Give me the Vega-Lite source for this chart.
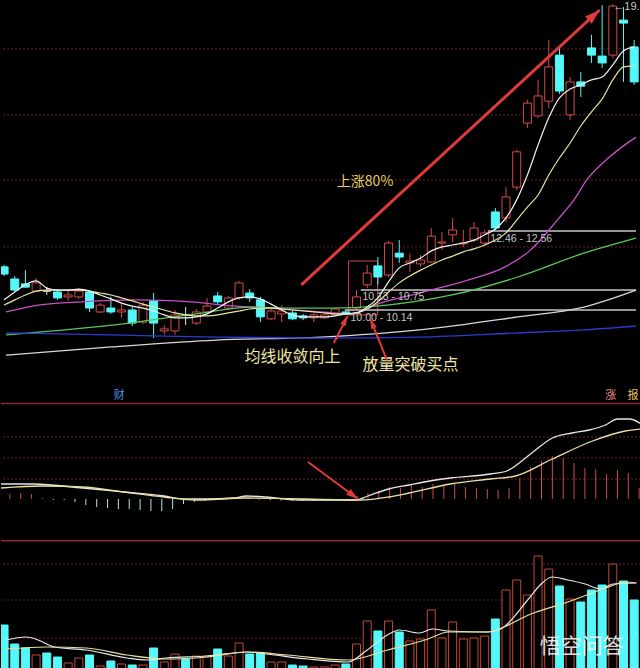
{
"$schema":"https://vega.github.io/schema/vega-lite/v6.json",
"background":"#000000",
"padding":0,
"spacing":0,
"config":{"view":{"stroke":null},"axis":{"disable":true}},
"resolve":{"scale":{"color":"independent","x":"independent","y":"independent"}},
"datasets":{
"candles":[
{"k":0,"o":11.46,"c":11.24,"h":11.52,"l":11.18,"ma5":10.45,"ma10":10.29,"vol":45000,"m":0.04},
{"k":1,"o":11.09,"c":10.75,"h":11.18,"l":10.69,"ma5":10.69,"ma10":10.45,"vol":26000,"m":0.05},
{"k":2,"o":10.94,"c":10.84,"h":11.36,"l":10.81,"ma5":10.91,"ma10":10.60,"vol":22000,"m":0.06},
{"k":3,"o":10.72,"c":10.97,"h":11.12,"l":10.69,"ma5":11.03,"ma10":10.72,"vol":15000,"m":0.05},
{"k":4,"o":10.72,"c":10.72,"h":10.84,"l":10.60,"ma5":10.81,"ma10":10.75,"vol":17000,"m":0.01},
{"k":5,"o":10.69,"c":10.51,"h":10.78,"l":10.45,"ma5":10.75,"ma10":10.75,"vol":13000,"m":-0.01},
{"k":6,"o":10.54,"c":10.60,"h":10.72,"l":10.42,"ma5":10.75,"ma10":10.75,"vol":7000,"m":-0.01},
{"k":7,"o":10.54,"c":10.72,"h":10.81,"l":10.48,"ma5":10.78,"ma10":10.75,"vol":12000,"m":-0.03},
{"k":8,"o":10.69,"c":10.20,"h":10.75,"l":10.08,"ma5":10.72,"ma10":10.72,"vol":15000,"m":-0.06},
{"k":9,"o":10.08,"c":10.29,"h":10.35,"l":10.05,"ma5":10.60,"ma10":10.66,"vol":4000,"m":-0.08},
{"k":10,"o":10.20,"c":10.08,"h":10.54,"l":10.02,"ma5":10.48,"ma10":10.60,"vol":9000,"m":-0.09},
{"k":11,"o":10.08,"c":10.14,"h":10.35,"l":9.90,"ma5":10.35,"ma10":10.51,"vol":6000,"m":-0.10},
{"k":12,"o":10.14,"c":9.74,"h":10.23,"l":9.65,"ma5":10.26,"ma10":10.42,"vol":5000,"m":-0.10},
{"k":13,"o":9.77,"c":10.29,"h":10.38,"l":9.71,"ma5":10.20,"ma10":10.32,"vol":5000,"m":-0.11},
{"k":14,"o":10.42,"c":9.74,"h":10.66,"l":9.28,"ma5":10.11,"ma10":10.23,"vol":22000,"m":-0.12},
{"k":15,"o":9.50,"c":9.56,"h":9.68,"l":9.38,"ma5":9.99,"ma10":10.14,"vol":8000,"m":-0.12},
{"k":16,"o":9.50,"c":9.99,"h":10.14,"l":9.38,"ma5":9.90,"ma10":10.05,"vol":16000,"m":-0.10},
{"k":17,"o":9.99,"c":9.99,"h":10.23,"l":9.68,"ma5":9.90,"ma10":9.99,"vol":11000,"m":-0.05},
{"k":18,"o":9.74,"c":10.08,"h":10.17,"l":9.68,"ma5":9.93,"ma10":9.96,"vol":14000,"m":-0.03},
{"k":19,"o":10.08,"c":10.26,"h":10.51,"l":10.05,"ma5":10.02,"ma10":9.96,"vol":14000,"m":-0.02},
{"k":20,"o":10.57,"c":10.39,"h":10.69,"l":10.29,"ma5":10.20,"ma10":9.99,"vol":21000,"m":-0.01},
{"k":21,"o":10.20,"c":10.51,"h":10.57,"l":10.14,"ma5":10.39,"ma10":10.05,"vol":14000,"m":-0.005},
{"k":22,"o":10.51,"c":10.97,"h":11.03,"l":10.45,"ma5":10.51,"ma10":10.11,"vol":27000,"m":0.01},
{"k":23,"o":10.66,"c":10.51,"h":10.78,"l":10.39,"ma5":10.54,"ma10":10.17,"vol":16000,"m":0.01},
{"k":24,"o":10.45,"c":9.93,"h":10.54,"l":9.77,"ma5":10.48,"ma10":10.20,"vol":17000,"m":-0.005},
{"k":25,"o":9.87,"c":10.11,"h":10.17,"l":9.83,"ma5":10.32,"ma10":10.20,"vol":8000,"m":-0.01},
{"k":26,"o":10.02,"c":10.11,"h":10.29,"l":9.77,"ma5":10.14,"ma10":10.17,"vol":8000,"m":-0.015},
{"k":27,"o":10.05,"c":9.87,"h":10.11,"l":9.83,"ma5":9.99,"ma10":10.14,"vol":5000,"m":-0.02},
{"k":28,"o":9.96,"c":9.90,"h":10.02,"l":9.83,"ma5":9.93,"ma10":10.11,"vol":4000,"m":-0.02},
{"k":29,"o":9.90,"c":9.99,"h":10.05,"l":9.77,"ma5":9.93,"ma10":10.08,"vol":3000,"m":-0.02},
{"k":30,"o":9.90,"c":9.99,"h":10.02,"l":9.87,"ma5":9.93,"ma10":10.05,"vol":3000,"m":-0.015},
{"k":31,"o":9.99,"c":10.17,"h":10.20,"l":9.96,"ma5":9.96,"ma10":10.02,"vol":5000,"m":-0.01},
{"k":32,"o":10.08,"c":10.02,"h":10.11,"l":9.99,"ma5":10.02,"ma10":10.02,"vol":6000,"m":-0.005},
{"k":33,"o":10.20,"c":10.54,"h":10.75,"l":10.14,"ma5":10.05,"ma10":10.05,"vol":26000,"m":0.03},
{"k":34,"o":10.91,"c":11.27,"h":11.52,"l":10.81,"ma5":10.23,"ma10":10.17,"vol":49000,"m":0.06},
{"k":35,"o":11.49,"c":11.15,"h":11.76,"l":10.91,"ma5":10.51,"ma10":10.39,"vol":39000,"m":0.08},
{"k":36,"o":11.21,"c":12.19,"h":12.25,"l":11.15,"ma5":11.00,"ma10":10.69,"vol":49000,"m":0.12},
{"k":37,"o":11.88,"c":11.76,"h":12.28,"l":11.58,"ma5":11.43,"ma10":10.97,"vol":38000,"m":0.11},
{"k":38,"o":11.58,"c":11.64,"h":11.88,"l":11.30,"ma5":11.58,"ma10":11.18,"vol":29000,"m":0.14},
{"k":39,"o":11.55,"c":11.67,"h":11.82,"l":11.46,"ma5":11.73,"ma10":11.36,"vol":31000,"m":0.12},
{"k":40,"o":11.61,"c":12.40,"h":12.65,"l":11.58,"ma5":11.95,"ma10":11.52,"vol":60000,"m":0.15},
{"k":41,"o":12.19,"c":12.22,"h":12.53,"l":11.98,"ma5":12.07,"ma10":11.67,"vol":32000,"m":0.13},
{"k":42,"o":12.44,"c":12.59,"h":12.96,"l":12.22,"ma5":12.13,"ma10":11.79,"vol":48000,"m":0.15},
{"k":43,"o":12.16,"c":12.19,"h":12.59,"l":12.07,"ma5":12.19,"ma10":11.92,"vol":31000,"m":0.12},
{"k":44,"o":12.28,"c":12.65,"h":12.83,"l":12.22,"ma5":12.28,"ma10":12.01,"vol":32000,"m":0.11},
{"k":45,"o":12.19,"c":12.50,"h":12.59,"l":12.13,"ma5":12.44,"ma10":12.13,"vol":34000,"m":0.10},
{"k":46,"o":13.14,"c":12.65,"h":13.26,"l":12.59,"ma5":12.62,"ma10":12.28,"vol":51000,"m":0.09},
{"k":47,"o":12.96,"c":13.60,"h":13.90,"l":12.83,"ma5":12.96,"ma10":12.50,"vol":80000,"m":0.11},
{"k":48,"o":13.90,"c":14.98,"h":15.04,"l":13.81,"ma5":13.51,"ma10":12.89,"vol":90000,"m":0.21},
{"k":49,"o":15.86,"c":16.47,"h":16.57,"l":15.71,"ma5":14.27,"ma10":13.29,"vol":75000,"m":0.32},
{"k":50,"o":16.08,"c":16.69,"h":17.18,"l":16.02,"ma5":15.19,"ma10":13.66,"vol":114000,"m":0.38},
{"k":51,"o":16.53,"c":17.58,"h":18.40,"l":16.32,"ma5":16.02,"ma10":14.27,"vol":101000,"m":0.43},
{"k":52,"o":17.94,"c":16.84,"h":18.16,"l":16.75,"ma5":16.63,"ma10":14.79,"vol":84000,"m":0.41},
{"k":53,"o":16.11,"c":17.12,"h":17.27,"l":15.95,"ma5":16.90,"ma10":15.25,"vol":71000,"m":0.36},
{"k":54,"o":17.12,"c":16.99,"h":17.42,"l":16.66,"ma5":17.03,"ma10":15.77,"vol":68000,"m":0.31},
{"k":55,"o":18.16,"c":17.94,"h":18.56,"l":17.70,"ma5":17.18,"ma10":16.20,"vol":80000,"m":0.30},
{"k":56,"o":17.91,"c":17.70,"h":19.47,"l":17.55,"ma5":17.27,"ma10":16.60,"vol":85000,"m":0.25},
{"k":57,"o":17.94,"c":19.44,"h":19.50,"l":17.85,"ma5":17.64,"ma10":17.18,"vol":106000,"m":0.29},
{"k":58,"o":19.01,"c":18.92,"h":19.41,"l":17.12,"ma5":18.07,"ma10":17.58,"vol":89000,"m":0.26},
{"k":59,"o":18.19,"c":17.12,"h":18.40,"l":17.03,"ma5":18.19,"ma10":17.61,"vol":70000,"m":0.11}
],
"mas":[
{"k":0.18,"s":"MA20","v":10.08},{"k":3.23,"s":"MA20","v":10.29},{"k":7.28,"s":"MA20","v":10.39},{"k":12.44,"s":"MA20","v":10.45},{"k":17.42,"s":"MA20","v":10.39},{"k":21.66,"s":"MA20","v":10.26},{"k":24.79,"s":"MA20","v":10.20},{"k":29.68,"s":"MA20","v":10.08},{"k":32.44,"s":"MA20","v":10.02},{"k":35.21,"s":"MA20","v":10.35},{"k":38.89,"s":"MA20","v":10.66},{"k":43.5,"s":"MA20","v":11.06},{"k":46.91,"s":"MA20","v":11.46},{"k":49.31,"s":"MA20","v":11.98},{"k":51.8,"s":"MA20","v":12.89},{"k":53.36,"s":"MA20","v":13.51},{"k":54.56,"s":"MA20","v":14.12},{"k":56.68,"s":"MA20","v":14.82},{"k":59.17,"s":"MA20","v":15.43},
{"k":0.18,"s":"MA30","v":9.38},{"k":12.44,"s":"MA30","v":9.77},{"k":15.85,"s":"MA30","v":9.93},{"k":17.97,"s":"MA30","v":10.02},{"k":23.23,"s":"MA30","v":10.23},{"k":26.64,"s":"MA30","v":10.20},{"k":30.6,"s":"MA30","v":10.20},{"k":35.85,"s":"MA30","v":10.29},{"k":41.94,"s":"MA30","v":10.60},{"k":48.11,"s":"MA30","v":11.15},{"k":54.29,"s":"MA30","v":11.88},{"k":59.17,"s":"MA30","v":12.34},
{"k":0.18,"s":"MA60","v":8.76},{"k":10.05,"s":"MA60","v":9.01},{"k":19.82,"s":"MA60","v":9.22},{"k":29.68,"s":"MA60","v":9.31},{"k":38.89,"s":"MA60","v":9.53},{"k":48.11,"s":"MA60","v":9.93},{"k":54.29,"s":"MA60","v":10.23},{"k":59.17,"s":"MA60","v":10.75},
{"k":0.18,"s":"MA120","v":9.44},{"k":10.05,"s":"MA120","v":9.38},{"k":19.82,"s":"MA120","v":9.31},{"k":29.68,"s":"MA120","v":9.28},{"k":38.89,"s":"MA120","v":9.31},{"k":48.11,"s":"MA120","v":9.44},{"k":54.29,"s":"MA120","v":9.53},{"k":59.17,"s":"MA120","v":9.65}
],
"macdLines":[
{"k":0.18,"s":"DIF","v":0.15},{"k":3.2,"s":"DIF","v":0.15},{"k":7.7,"s":"DIF","v":0.11},{"k":11.5,"s":"DIF","v":0.07},{"k":15.2,"s":"DIF","v":0.03},{"k":17.1,"s":"DIF","v":0.0},{"k":19,"s":"DIF","v":0.0},{"k":21.6,"s":"DIF","v":0.01},{"k":22.8,"s":"DIF","v":0.03},{"k":24.6,"s":"DIF","v":0.02},{"k":27.6,"s":"DIF","v":-0.01},{"k":32.9,"s":"DIF","v":-0.01},{"k":34,"s":"DIF","v":0.03},{"k":35.9,"s":"DIF","v":0.10},{"k":37.8,"s":"DIF","v":0.14},{"k":39.7,"s":"DIF","v":0.18},{"k":41.6,"s":"DIF","v":0.21},{"k":45.3,"s":"DIF","v":0.25},{"k":46.8,"s":"DIF","v":0.28},{"k":49.1,"s":"DIF","v":0.46},{"k":51,"s":"DIF","v":0.61},{"k":52.8,"s":"DIF","v":0.66},{"k":54.4,"s":"DIF","v":0.69},{"k":55.9,"s":"DIF","v":0.74},{"k":57,"s":"DIF","v":0.80},{"k":58.1,"s":"DIF","v":0.80},{"k":59.2,"s":"DIF","v":0.75},
{"k":0.18,"s":"DEA","v":0.11},{"k":3.96,"s":"DEA","v":0.13},{"k":7.7,"s":"DEA","v":0.12},{"k":11.5,"s":"DEA","v":0.07},{"k":15.2,"s":"DEA","v":0.02},{"k":18.2,"s":"DEA","v":-0.01},{"k":22.8,"s":"DEA","v":0.01},{"k":33.3,"s":"DEA","v":-0.01},{"k":35.9,"s":"DEA","v":0.02},{"k":37.8,"s":"DEA","v":0.06},{"k":41.6,"s":"DEA","v":0.15},{"k":45.3,"s":"DEA","v":0.20},{"k":47.6,"s":"DEA","v":0.23},{"k":51,"s":"DEA","v":0.40},{"k":54.7,"s":"DEA","v":0.58},{"k":57.7,"s":"DEA","v":0.68},{"k":59.2,"s":"DEA","v":0.70}
],
"volLines":[
{"k":0.18,"s":"V5","v":30000},{"k":2.07,"s":"V5","v":33000},{"k":3.2,"s":"V5","v":30000},{"k":4.7,"s":"V5","v":23000},{"k":7.7,"s":"V5","v":20000},{"k":11.5,"s":"V5","v":12000},{"k":13.4,"s":"V5","v":10000},{"k":15.2,"s":"V5","v":12000},{"k":19,"s":"V5","v":14000},{"k":22.8,"s":"V5","v":18000},{"k":24.6,"s":"V5","v":16000},{"k":28.4,"s":"V5","v":11000},{"k":32.2,"s":"V5","v":8000},{"k":34,"s":"V5","v":20000},{"k":35.9,"s":"V5","v":35000},{"k":37,"s":"V5","v":40000},{"k":38.9,"s":"V5","v":37000},{"k":40.1,"s":"V5","v":41000},{"k":41.6,"s":"V5","v":39000},{"k":45.3,"s":"V5","v":38000},{"k":46.5,"s":"V5","v":41000},{"k":49.1,"s":"V5","v":71000},{"k":50.2,"s":"V5","v":85000},{"k":51.3,"s":"V5","v":93000},{"k":52.8,"s":"V5","v":90000},{"k":54.4,"s":"V5","v":86000},{"k":55.9,"s":"V5","v":81000},{"k":57,"s":"V5","v":86000},{"k":59.2,"s":"V5","v":87000},
{"k":0.18,"s":"V10","v":21000},{"k":3.96,"s":"V10","v":23000},{"k":7.7,"s":"V10","v":22000},{"k":11.5,"s":"V10","v":15000},{"k":15.2,"s":"V10","v":11000},{"k":19,"s":"V10","v":13000},{"k":22.8,"s":"V10","v":18000},{"k":26.5,"s":"V10","v":15000},{"k":32.2,"s":"V10","v":10000},{"k":35.9,"s":"V10","v":20000},{"k":39.7,"s":"V10","v":31000},{"k":41.6,"s":"V10","v":38000},{"k":45.3,"s":"V10","v":38000},{"k":46.8,"s":"V10","v":43000},{"k":49.1,"s":"V10","v":55000},{"k":52.8,"s":"V10","v":68000},{"k":56.6,"s":"V10","v":83000},{"k":58.1,"s":"V10","v":88000},{"k":59.2,"s":"V10","v":87000}
]
},
"vconcat":[
{
"width":640,"height":402,
"layer":[
{"data":{"values":[{"p":18.13},{"p":16.11},{"p":14.12},{"p":12.07}]},"mark":{"type":"rule","color":"#6a2222","strokeDash":[2,2],"strokeWidth":1},"encoding":{"y":{"field":"p","type":"quantitative","scale":{"domain":[7.325,19.626],"nice":false,"zero":false},"axis":null}}},
{"data":{"values":[{"k":32.26,"k2":34.98,"p":9.99,"p2":11.64}]},"mark":{"type":"rect","fill":null,"fillOpacity":0,"stroke":"#c84444","strokeWidth":1},"encoding":{"x":{"field":"k","type":"quantitative","scale":{"domain":[0.18,59.17],"nice":false,"zero":false},"axis":null},"x2":{"field":"k2"},"y":{"field":"p","type":"quantitative","scale":{"domain":[7.325,19.626],"nice":false,"zero":false},"axis":null},"y2":{"field":"p2"}}},
{"data":{"name":"candles"},"mark":{"type":"rule","strokeWidth":1,"clip":true},"encoding":{"x":{"field":"k","type":"quantitative","scale":{"domain":[0.18,59.17],"nice":false,"zero":false},"axis":null},"y":{"field":"l","type":"quantitative","scale":{"domain":[7.325,19.626],"nice":false,"zero":false},"axis":null},"y2":{"field":"h"},"color":{"condition":[{"test":"datum.c==datum.o","value":"#e0e0e0"},{"test":"datum.c<datum.o","value":"#54f8f8"}],"value":"#d44a4a"}}},
{"data":{"name":"candles"},"mark":{"type":"bar","size":8,"orient":"vertical","strokeWidth":1,"clip":true},"encoding":{"x":{"field":"k","type":"quantitative","scale":{"domain":[0.18,59.17],"nice":false,"zero":false},"axis":null},"y":{"field":"o","type":"quantitative","scale":{"domain":[7.325,19.626],"nice":false,"zero":false},"axis":null},"y2":{"field":"c"},"fill":{"condition":{"test":"datum.c<datum.o","value":"#54f8f8"},"value":"#000000"},"stroke":{"condition":[{"test":"datum.c==datum.o","value":"#e0e0e0"},{"test":"datum.c<datum.o","value":"#54f8f8"}],"value":"#d44a4a"}}},
{"data":{"values":[{"k":31.9,"k2":59.17,"p":10.14},{"k":33.4,"k2":59.17,"p":10.75},{"k":45.3,"k2":59.17,"p":12.56}]},"mark":{"type":"rule","color":"#c8c8c8","strokeWidth":1.5,"clip":true},"encoding":{"x":{"field":"k","type":"quantitative","scale":{"domain":[0.18,59.17],"nice":false,"zero":false},"axis":null},"x2":{"field":"k2"},"y":{"field":"p","type":"quantitative","scale":{"domain":[7.325,19.626],"nice":false,"zero":false},"axis":null}}},
{"data":{"name":"mas"},"mark":{"type":"line","strokeWidth":1.3,"interpolate":"monotone","clip":true},"encoding":{"x":{"field":"k","type":"quantitative","scale":{"domain":[0.18,59.17],"nice":false,"zero":false},"axis":null},"y":{"field":"v","type":"quantitative","scale":{"domain":[7.325,19.626],"nice":false,"zero":false},"axis":null},"color":{"field":"s","type":"nominal","scale":{"domain":["MA20","MA30","MA60","MA120"],"range":["#c850c8","#58c858","#d8d8d8","#2a3ad0"]},"legend":null},"order":{"field":"k","type":"quantitative"}}},
{"data":{"name":"candles"},"mark":{"type":"line","color":"#e8e4a0","strokeWidth":1.2,"interpolate":"monotone","clip":true},"encoding":{"x":{"field":"k","type":"quantitative","scale":{"domain":[0.18,59.17],"nice":false,"zero":false},"axis":null},"y":{"field":"ma10","type":"quantitative","scale":{"domain":[7.325,19.626],"nice":false,"zero":false},"axis":null}}},
{"data":{"name":"candles"},"mark":{"type":"line","color":"#f2f2f2","strokeWidth":1.2,"interpolate":"monotone","clip":true},"encoding":{"x":{"field":"k","type":"quantitative","scale":{"domain":[0.18,59.17],"nice":false,"zero":false},"axis":null},"y":{"field":"ma5","type":"quantitative","scale":{"domain":[7.325,19.626],"nice":false,"zero":false},"axis":null}}},
{"data":{"values":[{"k":32.44,"p":9.895,"t":"10.00 - 10.14"},{"k":33.55,"p":10.538,"t":"10.13 - 10.75"},{"k":45.53,"p":12.313,"t":"12.46 - 12.56"}]},"mark":{"type":"text","align":"left","baseline":"middle","fontSize":10.5,"font":"Liberation Sans","color":"#c4c4c4","clip":true},"encoding":{"x":{"field":"k","type":"quantitative","scale":{"domain":[0.18,59.17],"nice":false,"zero":false},"axis":null},"y":{"field":"p","type":"quantitative","scale":{"domain":[7.325,19.626],"nice":false,"zero":false},"axis":null},"text":{"field":"t"}}},
{"data":{"values":[{"k":57.05,"p":19.40,"t":"←19.50"}]},"mark":{"type":"text","align":"left","baseline":"middle","fontSize":11,"font":"Liberation Sans","color":"#c8c8c8","clip":true},"encoding":{"x":{"field":"k","type":"quantitative","scale":{"domain":[0.18,59.17],"nice":false,"zero":false},"axis":null},"y":{"field":"p","type":"quantitative","scale":{"domain":[7.325,19.626],"nice":false,"zero":false},"axis":null},"text":{"field":"t"}}},
{"data":{"values":[{"k":27.0,"p":8.70,"t":"均线收敛向上"},{"k":38.06,"p":8.46,"t":"放量突破买点"}]},"mark":{"type":"text","align":"center","baseline":"middle","fontSize":16,"font":"Noto Sans CJK SC","color":"#efe6a6"},"encoding":{"x":{"field":"k","type":"quantitative","scale":{"domain":[0.18,59.17],"nice":false,"zero":false},"axis":null},"y":{"field":"p","type":"quantitative","scale":{"domain":[7.325,19.626],"nice":false,"zero":false},"axis":null},"text":{"field":"t"}}},
{"data":{"values":[{"k":33.8,"p":14.06,"t":"上涨80%"}]},"mark":{"type":"text","align":"center","baseline":"middle","fontSize":14,"font":"Noto Sans CJK SC","color":"#e8cf6a"},"encoding":{"x":{"field":"k","type":"quantitative","scale":{"domain":[0.18,59.17],"nice":false,"zero":false},"axis":null},"y":{"field":"p","type":"quantitative","scale":{"domain":[7.325,19.626],"nice":false,"zero":false},"axis":null},"text":{"field":"t"}}},
{"data":{"values":[{"k":10.78,"p":7.51,"t":"财"}]},"mark":{"type":"text","align":"center","baseline":"middle","fontSize":11,"font":"Noto Sans CJK SC","color":"#4a90e8"},"encoding":{"x":{"field":"k","type":"quantitative","scale":{"domain":[0.18,59.17],"nice":false,"zero":false},"axis":null},"y":{"field":"p","type":"quantitative","scale":{"domain":[7.325,19.626],"nice":false,"zero":false},"axis":null},"text":{"field":"t"}}},
{"data":{"values":[{"k":56.8,"p":7.51,"t":"涨"}]},"mark":{"type":"text","align":"center","baseline":"middle","fontSize":11,"font":"Noto Sans CJK SC","color":"#f49090"},"encoding":{"x":{"field":"k","type":"quantitative","scale":{"domain":[0.18,59.17],"nice":false,"zero":false},"axis":null},"y":{"field":"p","type":"quantitative","scale":{"domain":[7.325,19.626],"nice":false,"zero":false},"axis":null},"text":{"field":"t"}}},
{"data":{"values":[{"k":58.9,"p":7.51,"t":"报"}]},"mark":{"type":"text","align":"center","baseline":"middle","fontSize":11,"font":"Noto Sans CJK SC","color":"#e8c070","clip":true},"encoding":{"x":{"field":"k","type":"quantitative","scale":{"domain":[0.18,59.17],"nice":false,"zero":false},"axis":null},"y":{"field":"p","type":"quantitative","scale":{"domain":[7.325,19.626],"nice":false,"zero":false},"axis":null},"text":{"field":"t"}}},
{"data":{"values":[{"k":27.83,"p":10.91,"k2":55.76,"p2":19.32}]},"mark":{"type":"rule","color":"#e23a3a","strokeWidth":3},"encoding":{"x":{"field":"k","type":"quantitative","scale":{"domain":[0.18,59.17],"nice":false,"zero":false},"axis":null},"x2":{"field":"k2"},"y":{"field":"p","type":"quantitative","scale":{"domain":[7.325,19.626],"nice":false,"zero":false},"axis":null},"y2":{"field":"p2"}}},
{"data":{"values":[{"k":55.76,"p":19.32}]},"mark":{"type":"point","shape":"M0,0L-0.65,2L0.65,2Z","filled":true,"color":"#e23a3a","opacity":1,"size":225,"angle":47.8},"encoding":{"x":{"field":"k","type":"quantitative","scale":{"domain":[0.18,59.17],"nice":false,"zero":false},"axis":null},"y":{"field":"p","type":"quantitative","scale":{"domain":[7.325,19.626],"nice":false,"zero":false},"axis":null}}},
{"data":{"values":[{"k":30.88,"p":9.13,"k2":32.17,"p2":9.96},{"k":35.85,"p":8.61,"k2":34.29,"p2":9.87}]},"mark":{"type":"rule","color":"#e23a3a","strokeWidth":2},"encoding":{"x":{"field":"k","type":"quantitative","scale":{"domain":[0.18,59.17],"nice":false,"zero":false},"axis":null},"x2":{"field":"k2"},"y":{"field":"p","type":"quantitative","scale":{"domain":[7.325,19.626],"nice":false,"zero":false},"axis":null},"y2":{"field":"p2"}}},
{"data":{"values":[{"k":32.17,"p":9.96}]},"mark":{"type":"point","shape":"M0,0L-0.6,2L0.6,2Z","filled":true,"color":"#e23a3a","opacity":1,"size":100,"angle":27.4},"encoding":{"x":{"field":"k","type":"quantitative","scale":{"domain":[0.18,59.17],"nice":false,"zero":false},"axis":null},"y":{"field":"p","type":"quantitative","scale":{"domain":[7.325,19.626],"nice":false,"zero":false},"axis":null}}},
{"data":{"values":[{"k":34.29,"p":9.87}]},"mark":{"type":"point","shape":"M0,0L-0.6,2L0.6,2Z","filled":true,"color":"#e23a3a","opacity":1,"size":100,"angle":337.5},"encoding":{"x":{"field":"k","type":"quantitative","scale":{"domain":[0.18,59.17],"nice":false,"zero":false},"axis":null},"y":{"field":"p","type":"quantitative","scale":{"domain":[7.325,19.626],"nice":false,"zero":false},"axis":null}}}
]
},
{
"width":640,"height":136,
"layer":[
{"data":{"values":[{"p":0.62},{"p":0.41},{"p":0.20}]},"mark":{"type":"rule","color":"#6a2222","strokeDash":[2,2],"strokeWidth":1},"encoding":{"y":{"field":"p","type":"quantitative","scale":{"domain":[-0.40,0.96],"nice":false,"zero":false},"axis":null}}},
{"data":{"values":[{"p":0.955}]},"mark":{"type":"rule","color":"#8c2a2a","strokeWidth":1.5},"encoding":{"y":{"field":"p","type":"quantitative","scale":{"domain":[-0.40,0.96],"nice":false,"zero":false},"axis":null}}},
{"data":{"name":"candles"},"mark":{"type":"rule","strokeWidth":1,"clip":true},"encoding":{"x":{"field":"k","type":"quantitative","scale":{"domain":[0.18,59.17],"nice":false,"zero":false},"axis":null},"y":{"field":"m","type":"quantitative","scale":{"domain":[-0.40,0.96],"nice":false,"zero":false},"axis":null},"y2":{"datum":0},"color":{"condition":{"test":"datum.m<0","value":"#a8e8e8"},"value":"#d24a4a"}}},
{"data":{"name":"macdLines"},"mark":{"type":"line","strokeWidth":1.3,"interpolate":"monotone","clip":true},"encoding":{"x":{"field":"k","type":"quantitative","scale":{"domain":[0.18,59.17],"nice":false,"zero":false},"axis":null},"y":{"field":"v","type":"quantitative","scale":{"domain":[-0.40,0.96],"nice":false,"zero":false},"axis":null},"color":{"field":"s","type":"nominal","scale":{"domain":["DIF","DEA"],"range":["#e6e6e6","#e8e0a0"]},"legend":null},"order":{"field":"k","type":"quantitative"}}},
{"data":{"values":[{"k":28.48,"p":0.37,"k2":33.09,"p2":0.0}]},"mark":{"type":"rule","color":"#e23a3a","strokeWidth":2},"encoding":{"x":{"field":"k","type":"quantitative","scale":{"domain":[0.18,59.17],"nice":false,"zero":false},"axis":null},"x2":{"field":"k2"},"y":{"field":"p","type":"quantitative","scale":{"domain":[-0.40,0.96],"nice":false,"zero":false},"axis":null},"y2":{"field":"p2"}}},
{"data":{"values":[{"k":33.09,"p":0.0}]},"mark":{"type":"point","shape":"M0,0L-0.6,2L0.6,2Z","filled":true,"color":"#e23a3a","opacity":1,"size":144,"angle":126.5},"encoding":{"x":{"field":"k","type":"quantitative","scale":{"domain":[0.18,59.17],"nice":false,"zero":false},"axis":null},"y":{"field":"p","type":"quantitative","scale":{"domain":[-0.40,0.96],"nice":false,"zero":false},"axis":null}}}
]
},
{
"width":640,"height":130,
"layer":[
{"data":{"values":[{"p":106000},{"p":70000},{"p":32000}]},"mark":{"type":"rule","color":"#6a2222","strokeDash":[2,2],"strokeWidth":1},"encoding":{"y":{"field":"p","type":"quantitative","scale":{"domain":[0,130000],"nice":false,"zero":false},"axis":null}}},
{"data":{"values":[{"p":129300}]},"mark":{"type":"rule","color":"#8c2a2a","strokeWidth":1.5},"encoding":{"y":{"field":"p","type":"quantitative","scale":{"domain":[0,130000],"nice":false,"zero":false},"axis":null}}},
{"data":{"name":"candles"},"mark":{"type":"bar","size":8,"orient":"vertical","strokeWidth":1,"clip":true},"encoding":{"x":{"field":"k","type":"quantitative","scale":{"domain":[0.18,59.17],"nice":false,"zero":false},"axis":null},"y":{"field":"vol","type":"quantitative","scale":{"domain":[0,130000],"nice":false,"zero":false},"axis":null},"y2":{"datum":0},"fill":{"condition":{"test":"datum.c<=datum.o","value":"#54f8f8"},"value":"#000000"},"stroke":{"condition":{"test":"datum.c<=datum.o","value":"#54f8f8"},"value":"#c04838"}}},
{"data":{"name":"volLines"},"mark":{"type":"line","strokeWidth":1.2,"interpolate":"monotone","clip":true},"encoding":{"x":{"field":"k","type":"quantitative","scale":{"domain":[0.18,59.17],"nice":false,"zero":false},"axis":null},"y":{"field":"v","type":"quantitative","scale":{"domain":[0,130000],"nice":false,"zero":false},"axis":null},"color":{"field":"s","type":"nominal","scale":{"domain":["V5","V10"],"range":["#e6e6e6","#e8e0a0"]},"legend":null},"order":{"field":"k","type":"quantitative"}}},
{"data":{"values":[{"k":54.1,"v":23500,"t":"悟空问答"}]},"mark":{"type":"text","align":"center","baseline":"middle","fontSize":21,"font":"Noto Sans CJK SC","color":"#ffffff","opacity":0.85},"encoding":{"x":{"field":"k","type":"quantitative","scale":{"domain":[0.18,59.17],"nice":false,"zero":false},"axis":null},"y":{"field":"v","type":"quantitative","scale":{"domain":[0,130000],"nice":false,"zero":false},"axis":null},"text":{"field":"t"}}}
]
}
]
}
